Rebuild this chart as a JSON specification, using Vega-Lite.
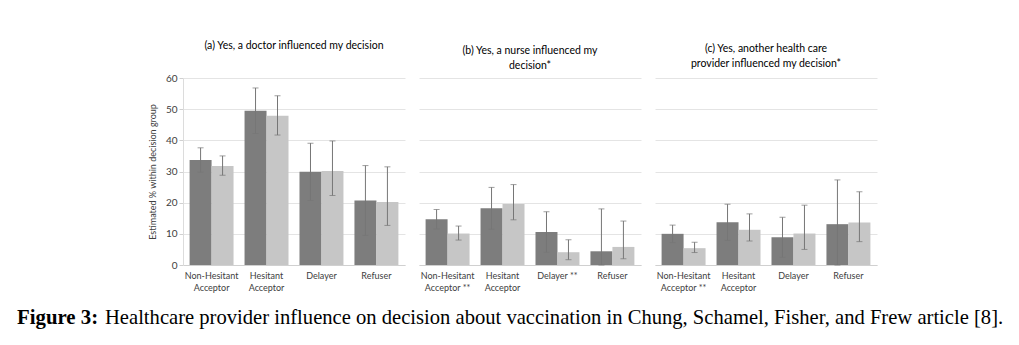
{
  "$schema": "https://vega.github.io/schema/vega-lite/v6.json",
  "padding": {"left": 17, "top": 40, "right": 5, "bottom": 5},
  "background": "white",
  "config": {
    "font": "Lato",
    "view": {"stroke": null},
    "axis": {"labelFont": "Lato", "titleFont": "Lato", "labelColor": "#404040", "titleColor": "#404040"},
    "title": {"font": "Lato"}
  },
  "title": {
    "text": "Healthcare provider influence on decision about vaccination in Chung, Schamel, Fisher, and Frew article [8].",
    "orient": "bottom",
    "anchor": "start",
    "frame": "group",
    "dx": -78,
    "offset": -20,
    "font": "Liberation Serif",
    "fontSize": 20.6,
    "fontWeight": "normal",
    "color": "#000000"
  },
  "data": {
    "values": [
      {"panel": "a", "cat": "Non-Hesitant|Acceptor", "s": "1", "v": 33.7, "lo": 29.8, "hi": 37.6},
      {"panel": "a", "cat": "Non-Hesitant|Acceptor", "s": "2", "v": 31.8, "lo": 28.8, "hi": 35.0},
      {"panel": "a", "cat": "Hesitant|Acceptor", "s": "1", "v": 49.5, "lo": 42.2, "hi": 56.8},
      {"panel": "a", "cat": "Hesitant|Acceptor", "s": "2", "v": 47.9, "lo": 41.7, "hi": 54.3},
      {"panel": "a", "cat": "Delayer", "s": "1", "v": 29.9, "lo": 20.7, "hi": 39.1},
      {"panel": "a", "cat": "Delayer", "s": "2", "v": 30.2, "lo": 22.3, "hi": 39.8},
      {"panel": "a", "cat": "Refuser", "s": "1", "v": 20.7, "lo": 9.5, "hi": 31.9},
      {"panel": "a", "cat": "Refuser", "s": "2", "v": 20.2, "lo": 12.7, "hi": 31.5},
      {"panel": "b", "cat": "Non-Hesitant|Acceptor **", "s": "1", "v": 14.7, "lo": 11.6, "hi": 17.8},
      {"panel": "b", "cat": "Non-Hesitant|Acceptor **", "s": "2", "v": 10.1, "lo": 8.0, "hi": 12.5},
      {"panel": "b", "cat": "Hesitant|Acceptor", "s": "1", "v": 18.2, "lo": 11.5, "hi": 24.9},
      {"panel": "b", "cat": "Hesitant|Acceptor", "s": "2", "v": 19.6, "lo": 14.5, "hi": 25.8},
      {"panel": "b", "cat": "Delayer **", "s": "1", "v": 10.6, "lo": 4.1, "hi": 17.1},
      {"panel": "b", "cat": "Delayer **", "s": "2", "v": 4.1, "lo": 1.7, "hi": 8.1},
      {"panel": "b", "cat": "Refuser", "s": "1", "v": 4.4, "lo": 0, "hi": 18.0},
      {"panel": "b", "cat": "Refuser", "s": "2", "v": 5.8, "lo": 2.0, "hi": 14.1},
      {"panel": "c", "cat": "Non-Hesitant|Acceptor **", "s": "1", "v": 10.0, "lo": 7.2, "hi": 12.8},
      {"panel": "c", "cat": "Non-Hesitant|Acceptor **", "s": "2", "v": 5.4, "lo": 4.0, "hi": 7.3},
      {"panel": "c", "cat": "Hesitant|Acceptor", "s": "1", "v": 13.7, "lo": 7.9, "hi": 19.5},
      {"panel": "c", "cat": "Hesitant|Acceptor", "s": "2", "v": 11.3, "lo": 7.7, "hi": 16.4},
      {"panel": "c", "cat": "Delayer", "s": "1", "v": 8.9, "lo": 2.5, "hi": 15.3},
      {"panel": "c", "cat": "Delayer", "s": "2", "v": 10.1, "lo": 5.0, "hi": 19.2},
      {"panel": "c", "cat": "Refuser", "s": "1", "v": 13.1, "lo": 0, "hi": 27.3},
      {"panel": "c", "cat": "Refuser", "s": "2", "v": 13.6, "lo": 7.5, "hi": 23.5}
    ]
  },
  "vconcat": [
    {
      "title": {
        "text": "Figure 3:",
        "orient": "bottom",
        "anchor": "start",
        "frame": "group",
        "dx": -166,
        "offset": 16,
        "font": "Liberation Serif",
        "fontSize": 20.8,
        "fontWeight": "bold",
        "color": "#000000"
      },
      "spacing": 14,
      "hconcat": [
        {
          "width": 222, "height": 187,
          "title": {"text": ["(a) Yes, a doctor influenced my decision", " "], "fontSize": 10.5, "fontWeight": "normal", "lineHeight": 15, "offset": 7, "color": "#000000"},
          "transform": [{"filter": "datum.panel == 'a'"}],
          "encoding": {
            "x": {"field": "cat", "type": "nominal", "sort": null, "title": null,
                  "scale": {"paddingInner": 0.2, "paddingOuter": 0.12},
                  "axis": {"labelAngle": 0, "labelExpr": "split(datum.label, '|')", "ticks": false, "domainColor": "#d0d0d0", "labelFontSize": 9, "labelPadding": 6, "labelLineHeight": 12}},
            "xOffset": {"field": "s", "type": "nominal", "scale": {"paddingInner": 0, "paddingOuter": 0}}
          },
          "layer": [
            {"mark": {"type": "bar"},
             "encoding": {
               "y": {"field": "v", "type": "quantitative", "scale": {"domain": [0, 60]},
                     "axis": {"title": "Estimated % within decision group", "values": [0, 10, 20, 30, 40, 50, 60], "tickCount": 7, "gridColor": "#e4e4e4", "domainColor": "#dcdcdc", "tickColor": "#d0d0d0", "tickSize": 4, "labelFontSize": 10, "titleFontSize": 9, "titleFontWeight": "normal", "titlePadding": 8, "labelOverlap": false}},
               "color": {"field": "s", "type": "nominal", "scale": {"range": ["#7d7d7d", "#c6c6c6"]}, "legend": null}}},
            {"mark": {"type": "rule", "color": "#767676", "strokeWidth": 1},
             "encoding": {"y": {"field": "lo", "type": "quantitative", "axis": {"title": "Estimated % within decision group", "values": [0, 10, 20, 30, 40, 50, 60], "tickCount": 7, "gridColor": "#e4e4e4", "domainColor": "#dcdcdc", "tickColor": "#d0d0d0", "tickSize": 4, "labelFontSize": 10, "titleFontSize": 9, "titleFontWeight": "normal", "titlePadding": 8, "labelOverlap": false}}, "y2": {"field": "hi"}}},
            {"mark": {"type": "tick", "color": "#767676", "size": 6, "thickness": 1},
             "encoding": {"y": {"field": "hi", "type": "quantitative", "axis": {"title": "Estimated % within decision group", "values": [0, 10, 20, 30, 40, 50, 60], "tickCount": 7, "gridColor": "#e4e4e4", "domainColor": "#dcdcdc", "tickColor": "#d0d0d0", "tickSize": 4, "labelFontSize": 10, "titleFontSize": 9, "titleFontWeight": "normal", "titlePadding": 8, "labelOverlap": false}}}},
            {"mark": {"type": "tick", "color": "#767676", "size": 6, "thickness": 1},
             "encoding": {"y": {"field": "lo", "type": "quantitative", "axis": {"title": "Estimated % within decision group", "values": [0, 10, 20, 30, 40, 50, 60], "tickCount": 7, "gridColor": "#e4e4e4", "domainColor": "#dcdcdc", "tickColor": "#d0d0d0", "tickSize": 4, "labelFontSize": 10, "titleFontSize": 9, "titleFontWeight": "normal", "titlePadding": 8, "labelOverlap": false}}}}
          ]
        },
        {
          "width": 222, "height": 187,
          "title": {"text": ["(b) Yes, a nurse influenced my", "decision*"], "fontSize": 10.5, "fontWeight": "normal", "lineHeight": 15, "offset": 7, "color": "#000000"},
          "transform": [{"filter": "datum.panel == 'b'"}],
          "encoding": {
            "x": {"field": "cat", "type": "nominal", "sort": null, "title": null,
                  "scale": {"paddingInner": 0.2, "paddingOuter": 0.12},
                  "axis": {"labelAngle": 0, "labelExpr": "split(datum.label, '|')", "ticks": false, "domainColor": "#d0d0d0", "labelFontSize": 9, "labelPadding": 6, "labelLineHeight": 12}},
            "xOffset": {"field": "s", "type": "nominal", "scale": {"paddingInner": 0, "paddingOuter": 0}}
          },
          "layer": [
            {"mark": {"type": "bar"},
             "encoding": {
               "y": {"field": "v", "type": "quantitative", "scale": {"domain": [0, 60]},
                     "axis": {"title": null, "labels": false, "ticks": false, "domain": false, "values": [0, 10, 20, 30, 40, 50, 60], "tickCount": 7, "gridColor": "#e4e4e4"}},
               "color": {"field": "s", "type": "nominal", "scale": {"range": ["#7d7d7d", "#c6c6c6"]}, "legend": null}}},
            {"mark": {"type": "rule", "color": "#767676", "strokeWidth": 1},
             "encoding": {"y": {"field": "lo", "type": "quantitative", "axis": {"title": null, "labels": false, "ticks": false, "domain": false, "values": [0, 10, 20, 30, 40, 50, 60], "tickCount": 7, "gridColor": "#e4e4e4"}}, "y2": {"field": "hi"}}},
            {"mark": {"type": "tick", "color": "#767676", "size": 6, "thickness": 1},
             "encoding": {"y": {"field": "hi", "type": "quantitative", "axis": {"title": null, "labels": false, "ticks": false, "domain": false, "values": [0, 10, 20, 30, 40, 50, 60], "tickCount": 7, "gridColor": "#e4e4e4"}}}},
            {"mark": {"type": "tick", "color": "#767676", "size": 6, "thickness": 1},
             "encoding": {"y": {"field": "lo", "type": "quantitative", "axis": {"title": null, "labels": false, "ticks": false, "domain": false, "values": [0, 10, 20, 30, 40, 50, 60], "tickCount": 7, "gridColor": "#e4e4e4"}}}}
          ]
        },
        {
          "width": 222, "height": 187,
          "title": {"text": ["(c) Yes, another health care", "provider influenced my decision*"], "fontSize": 10.5, "fontWeight": "normal", "lineHeight": 15, "offset": 9, "color": "#000000"},
          "transform": [{"filter": "datum.panel == 'c'"}],
          "encoding": {
            "x": {"field": "cat", "type": "nominal", "sort": null, "title": null,
                  "scale": {"paddingInner": 0.2, "paddingOuter": 0.12},
                  "axis": {"labelAngle": 0, "labelExpr": "split(datum.label, '|')", "ticks": false, "domainColor": "#d0d0d0", "labelFontSize": 9, "labelPadding": 6, "labelLineHeight": 12}},
            "xOffset": {"field": "s", "type": "nominal", "scale": {"paddingInner": 0, "paddingOuter": 0}}
          },
          "layer": [
            {"mark": {"type": "bar"},
             "encoding": {
               "y": {"field": "v", "type": "quantitative", "scale": {"domain": [0, 60]},
                     "axis": {"title": null, "labels": false, "ticks": false, "domain": false, "values": [0, 10, 20, 30, 40, 50, 60], "tickCount": 7, "gridColor": "#e4e4e4"}},
               "color": {"field": "s", "type": "nominal", "scale": {"range": ["#7d7d7d", "#c6c6c6"]}, "legend": null}}},
            {"mark": {"type": "rule", "color": "#767676", "strokeWidth": 1},
             "encoding": {"y": {"field": "lo", "type": "quantitative", "axis": {"title": null, "labels": false, "ticks": false, "domain": false, "values": [0, 10, 20, 30, 40, 50, 60], "tickCount": 7, "gridColor": "#e4e4e4"}}, "y2": {"field": "hi"}}},
            {"mark": {"type": "tick", "color": "#767676", "size": 6, "thickness": 1},
             "encoding": {"y": {"field": "hi", "type": "quantitative", "axis": {"title": null, "labels": false, "ticks": false, "domain": false, "values": [0, 10, 20, 30, 40, 50, 60], "tickCount": 7, "gridColor": "#e4e4e4"}}}},
            {"mark": {"type": "tick", "color": "#767676", "size": 6, "thickness": 1},
             "encoding": {"y": {"field": "lo", "type": "quantitative", "axis": {"title": null, "labels": false, "ticks": false, "domain": false, "values": [0, 10, 20, 30, 40, 50, 60], "tickCount": 7, "gridColor": "#e4e4e4"}}}}
          ]
        }
      ]
    }
  ]
}
